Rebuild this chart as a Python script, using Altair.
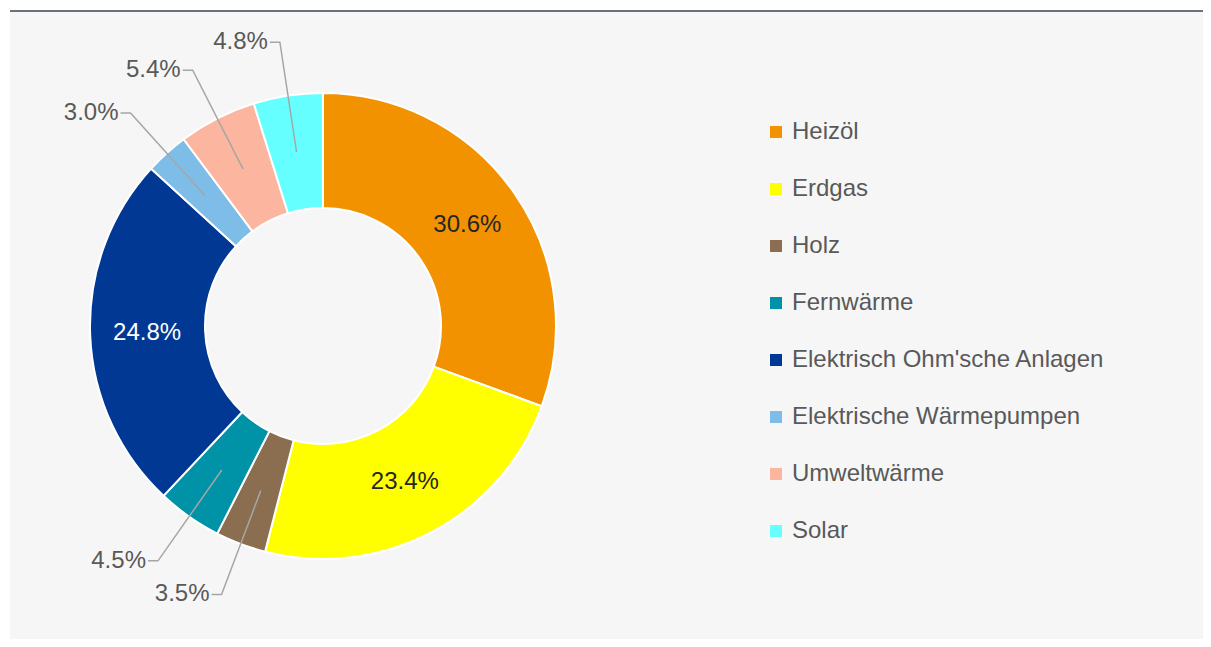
import math
import pandas as pd
import altair as alt

# ---- data ----
categories = ["Heizöl", "Erdgas", "Holz", "Fernwärme", "Elektrisch Ohm'sche Anlagen",
              "Elektrische Wärmepumpen", "Umweltwärme", "Solar"]
values = [30.6, 23.4, 3.5, 4.5, 24.8, 3.0, 5.4, 4.8]
colors = ["#f39200", "#ffff00", "#8b6e4f", "#0092a6", "#003893", "#7dbde8", "#fcb59e", "#66ffff"]

# ---- layout constants ----
W, H = 1193, 629
CX, CY = 313, 316          # donut centre inside the plot area
R_OUT, R_IN = 233, 118
R_LAB = 176                # label / leader start radius
R_ELB = 287                # leader elbow radius
HOOK = 10                  # horizontal leader segment
FONT = "Liberation Sans"

total = sum(values)
arc_rows, in_rows, line_rows, out_rows = [], [], [], []
cum = 0.0
for i, (c, v) in enumerate(zip(categories, values)):
    mid = (cum + v / 2) / total * 2 * math.pi
    cum += v
    arc_rows.append({"category": c, "value": v, "idx": i})
    s, co = math.sin(mid), math.cos(mid)
    txt = f"{v:.1f}%"
    if v >= 10:
        in_rows.append({"x": CX + R_LAB * s, "y": CY - R_LAB * co, "text": txt,
                        "category": c})
    else:
        sign = -1 if s < 0 else 1
        x0, y0 = CX + R_LAB * s, CY - R_LAB * co
        x1, y1 = CX + R_ELB * s, CY - R_ELB * co
        x2 = x1 + sign * HOOK
        for k, (px, py) in enumerate([(x0, y0), (x1, y1), (x2, y1)]):
            line_rows.append({"label": c, "pt": k, "x": px, "y": py})
        out_rows.append({"x": x2 + sign * 2, "y": y1, "text": txt, "side": sign})

arc_df = pd.DataFrame(arc_rows)
in_df = pd.DataFrame(in_rows)
line_df = pd.DataFrame(line_rows)
out_df = pd.DataFrame(out_rows)

color_scale = alt.Scale(domain=categories, range=colors)

arcs = alt.Chart(arc_df).mark_arc(
    radius=R_OUT, radius2=R_IN, stroke="white", strokeWidth=2
).encode(
    theta=alt.Theta("value:Q", stack=True),
    order=alt.Order("idx:Q"),
    color=alt.Color(
        "category:N", scale=color_scale, sort=categories,
        legend=alt.Legend(
            title=None, orient="none", legendX=754, legendY=110, padding=0,
            symbolType="square", symbolSize=144, symbolStrokeWidth=0,
            labelFont=FONT, labelFontSize=24, labelColor="#595959",
            labelOffset=4, rowPadding=33, labelLimit=400,
        ),
    ),
    x=alt.value(CX), y=alt.value(CY),
)

inside = alt.Chart(in_df).mark_text(
    font=FONT, fontSize=24, align="center", baseline="middle"
).encode(
    x=alt.X("x:Q", scale=None, axis=None),
    y=alt.Y("y:Q", scale=None, axis=None),
    text="text:N",
    color=alt.condition(alt.datum.category == "Elektrisch Ohm'sche Anlagen",
                        alt.value("#ffffff"), alt.value("#262626")),
)

leaders = alt.Chart(line_df).mark_line(color="#a6a6a6", strokeWidth=1.5).encode(
    x=alt.X("x:Q", scale=None, axis=None),
    y=alt.Y("y:Q", scale=None, axis=None),
    detail="label:N",
    order=alt.Order("pt:Q"),
)

out_left = alt.Chart(out_df).transform_filter(alt.datum.side < 0).mark_text(
    font=FONT, fontSize=24, align="right", baseline="middle", color="#595959"
).encode(
    x=alt.X("x:Q", scale=None, axis=None),
    y=alt.Y("y:Q", scale=None, axis=None),
    text="text:N",
)
out_right = alt.Chart(out_df).transform_filter(alt.datum.side > 0).mark_text(
    font=FONT, fontSize=24, align="left", baseline="middle", color="#595959"
).encode(
    x=alt.X("x:Q", scale=None, axis=None),
    y=alt.Y("y:Q", scale=None, axis=None),
    text="text:N",
)

top_rule = alt.Chart(arc_df).mark_rule(color="#6b717a", strokeWidth=2).encode(
    x=alt.value(0), x2=alt.value(W), y=alt.value(1)
)

chart = alt.layer(arcs, leaders, inside, out_left, out_right, top_rule).properties(
    width=W, height=H,
    padding={"left": 2, "top": 2, "right": 0, "bottom": 0},
    autosize=alt.AutoSizeParams(type="none"),
    background="#ffffff",
).configure_view(fill="#f6f6f6", stroke=None)

chart.save("out.html", embed_options={"renderer": "svg", "actions": False})
